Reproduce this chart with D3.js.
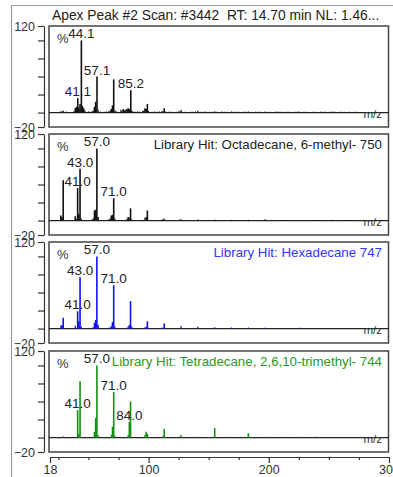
<!DOCTYPE html>
<html>
<head>
<meta charset="utf-8">
<script src="https://cdn.jsdelivr.net/npm/d3@7"></script>
<style>
  html, body { margin: 0; padding: 0; background: #fff; }
  svg { display: block; font-family: "Liberation Sans", Arial, sans-serif; }
  .pre { white-space: pre; }
</style>
</head>
<body>
<svg id="chart" width="393" height="477"></svg>
<script>
// ---- text ----
const headerText = "Apex Peak #2 Scan: #3442  RT: 14.70 min NL: 1.46...";
const hitTitles = [
  "",
  "Library Hit: Octadecane, 6-methyl- 750",
  "Library Hit: Hexadecane 747",
  "Library Hit: Tetradecane, 2,6,10-trimethyl- 744"
];

// ---- axes ----
const mzMajorTicks = [18, 100, 200, 300];
const mzMinorTicks = [25, 50, 75, 125, 150, 175, 225, 250, 275];
const intensityTicks = [120, 100, 75, 50, 25, 0, -20];
const intensityLabelled = [120, -20];

// ---- measured scan (apex peak #2) ----
const scanMz = [27, 28, 29, 31, 32, 38, 39, 40, 41.1, 42, 43, 44.1, 45, 46, 47, 50, 51, 53, 54, 55, 56, 57.1, 58, 60, 63, 65,
  67, 68, 69, 70, 71, 72, 73, 75, 77, 78, 79, 80, 81, 82, 83, 84, 85.2, 86, 87, 89, 91, 93, 95, 96, 97, 98, 99, 100,
  103, 105, 107, 109, 111, 112, 113, 114, 117, 119, 121, 123, 125, 126, 127, 128, 131, 133, 135, 137, 139, 141, 143,
  145, 147, 149, 151, 153, 155, 157, 159, 161, 163, 165, 167, 169, 171, 173, 175, 177, 179, 181, 183, 185, 187, 189,
  191, 193, 195, 197, 199, 201, 203, 205, 207, 209, 211, 213, 215, 217, 219, 221, 223, 225, 227, 229, 231, 233, 235,
  237, 239, 241, 243, 245, 247, 249, 251, 253, 255, 257, 259, 261, 263, 265, 267, 269, 271, 273, 275, 277, 281, 285];
const scanIntensity = [2, 1.5, 3, 1, 1, 2, 6, 8, 20, 7, 12, 100, 9, 6, 3, 1.5, 1, 2, 3, 8, 15, 50, 4, 1.5, 1, 1.5,
  2, 3, 5, 10, 46, 3, 2, 1, 4, 3, 5, 3, 4, 5, 6, 5, 31, 3, 1.5, 1, 2, 1, 2, 3, 6, 5, 12, 2,
  1, 1.5, 1, 1.5, 2, 2, 6, 1.5, 1, 1.2, 0.8, 1, 1.5, 2, 4, 1, 1.2, 0.9, 1.3, 1, 1.5, 2.5, 1,
  1.2, 1.5, 0.9, 1.1, 1, 2, 1.2, 0.8, 1.4, 1, 1.2, 0.9, 1.5, 1.1, 1, 1.3, 0.9, 1.2, 1, 1.5, 1.1, 0.8, 1.2,
  1, 1.3, 0.9, 1.5, 1, 1.2, 0.8, 1.1, 1.5, 1, 1.2, 0.9, 1.1, 1.3, 0.8, 1, 1.2, 1.5, 0.9, 1.1, 1.3, 1, 0.8,
  1.2, 1.1, 0.9, 1.3, 1, 1.2, 0.8, 1.1, 1.5, 1, 0.9, 1.2, 1, 1.1, 0.8, 1.2, 0.9, 1, 1.1, 0.8, 0.9, 0.7, 0.6];
const scanLabels = [41.1, 44.1, 57.1, 85.2];

// ---- library hit 1: Octadecane, 6-methyl- ----
const octMz = [27, 28, 29, 39, 40, 41, 42, 43, 44, 53, 54, 55, 56, 57, 58, 67, 68, 69, 70, 71, 72, 81, 82, 83, 84, 85, 86,
  95, 97, 98, 99, 100, 111, 112, 113, 126, 127, 141, 155, 169, 183, 197, 211, 239, 253, 268];
const octIntensity = [7, 5, 56, 6, 2, 45, 9, 72, 3, 2, 3, 14, 15, 100, 5, 2, 3, 7, 8, 31, 3, 1, 2, 5, 4, 17, 2,
  1, 4, 5, 14, 1, 1, 2, 3, 1, 2, 1.5, 1, 1, 1, 2, 0.8, 0.5, 1, 0.5];
const octLabels = [41.0, 43.0, 57.0, 71.0];

// ---- library hit 2: Hexadecane ----
const hexMz = [27, 28, 29, 39, 41, 42, 43, 44, 53, 54, 55, 56, 57, 58, 67, 68, 69, 70, 71, 72, 82, 83, 84, 85, 86,
  97, 98, 99, 100, 111, 112, 113, 127, 141, 155, 169, 183, 197, 226];
const hexIntensity = [4, 5, 15, 4, 24, 10, 71, 3, 1, 2, 8, 12, 100, 5, 1, 2, 4, 9, 60, 3, 1, 3, 5, 38, 3,
  2, 3, 10, 1, 1, 1, 7, 4, 3, 2, 1.5, 1.5, 1, 1];
const hexLabels = [41.0, 43.0, 57.0, 71.0];

// ---- library hit 3: Tetradecane, 2,6,10-trimethyl- ----
const triMz = [29, 41, 42, 43, 55, 56, 57, 58, 69, 70, 71, 72, 83, 84, 85, 97, 98, 99, 112, 113, 126, 127, 141, 155,
  169, 183, 197, 211, 225, 239];
const triIntensity = [2, 38, 5, 78, 8, 27, 100, 4, 4, 15, 63, 3, 4, 22, 50, 4, 8, 5, 3, 12, 2, 4, 1, 13,
  1, 6, 1, 0.5, 1, 1.5];
const triLabels = [41.0, 57.0, 71.0, 84.0];

const panels = [
  { mz: scanMz, inten: scanIntensity, labels: scanLabels, color: "#111111", title: hitTitles[0], titleColor: "#222", top: 26 },
  { mz: octMz, inten: octIntensity, labels: octLabels, color: "#111111", title: hitTitles[1], titleColor: "#222", top: 134 },
  { mz: hexMz, inten: hexIntensity, labels: hexLabels, color: "#1010ff", title: hitTitles[2], titleColor: "#3333ff", top: 242 },
  { mz: triMz, inten: triIntensity, labels: triLabels, color: "#138f13", title: hitTitles[3], titleColor: "#2a982a", top: 351 }
];

const W = 393, H = 477;
const boxLeft = 49, boxRight = 388.5, panelH = 101;
const axisX = 44;
const fmt = d3.format(".1f");

const svg = d3.select("#chart");

const x = d3.scaleLinear().domain([18, 300]).range([50, 389]);

// outer frame
svg.append("path")
  .attr("d", `M11.5,${H} V5.5 H${W}`)
  .attr("fill", "none").attr("stroke", "#9a9a9a").attr("stroke-width", 1.2);

// header line
svg.append("text")
  .attr("class", "pre")
  .attr("x", 52).attr("y", 20)
  .attr("font-size", 13.8).attr("fill", "#222")
  .text(headerText);

panels.forEach((p, i) => {
  const y = d3.scaleLinear().domain([-20, 120]).range([p.top + panelH, p.top]);
  const g = svg.append("g");

  // intensity axis
  const ax = g.append("g")
    .attr("transform", `translate(${axisX},0)`)
    .call(d3.axisLeft(y)
      .tickValues(intensityTicks)
      .tickSize(6)
      .tickSizeOuter(0)
      .tickPadding(3)
      .tickFormat(d => intensityLabelled.includes(d) ? d3.format("d")(d) : ""));
  ax.select(".domain").attr("stroke", "#333").attr("stroke-width", 1.2);
  ax.selectAll(".tick line").attr("stroke", "#333").attr("stroke-width", 1.2);
  ax.selectAll(".tick text")
    .attr("font-family", "Liberation Sans, Arial, sans-serif")
    .attr("font-size", 12.5).attr("fill", "#333");

  // panel box
  g.append("rect")
    .attr("x", boxLeft).attr("y", p.top)
    .attr("width", boxRight - boxLeft).attr("height", panelH)
    .attr("fill", "none").attr("stroke", "#444").attr("stroke-width", 1.5);

  // baseline at zero intensity
  g.append("line")
    .attr("x1", boxLeft).attr("x2", boxRight)
    .attr("y1", y(0)).attr("y2", y(0))
    .attr("stroke", "#222").attr("stroke-width", 1.2);

  // peaks
  const peaks = p.mz.map((m, k) => ({ mz: m, v: p.inten[k] }));
  g.append("g").selectAll("line")
    .data(peaks)
    .join("line")
    .attr("x1", d => x(d.mz)).attr("x2", d => x(d.mz))
    .attr("y1", y(0)).attr("y2", d => y(d.v))
    .attr("stroke", p.color)
    .attr("stroke-width", d => d.v >= 5 ? 1.6 : 1.2);

  // % sign
  g.append("text")
    .attr("x", 57).attr("y", p.top + 17)
    .attr("font-size", 13).attr("fill", "#333")
    .text("%");

  // peak labels
  g.append("g").selectAll("text")
    .data(p.labels.map(m => peaks.find(d => d.mz === m)))
    .join("text")
    .attr("x", d => x(d.mz))
    .attr("y", d => y(d.v) - 2)
    .attr("text-anchor", "middle")
    .attr("font-size", 13.5).attr("fill", "#222")
    .text(d => fmt(d.mz));

  // library hit title
  if (p.title) {
    g.append("text")
      .attr("x", 382).attr("y", p.top + 15)
      .attr("text-anchor", "end")
      .attr("font-size", 13.3).attr("fill", p.titleColor)
      .text(p.title);
  }

  // m/z marker
  g.append("text")
    .attr("x", 382).attr("y", y(0) + 5)
    .attr("text-anchor", "end")
    .attr("font-size", 11.5).attr("fill", "#333")
    .text("m/z");
});

// m/z axis
const axisY = 457;
const xMajor = svg.append("g")
  .attr("transform", `translate(0,${axisY})`)
  .call(d3.axisBottom(x).tickValues(mzMajorTicks).tickSize(6).tickSizeOuter(0).tickPadding(2).tickFormat(d3.format("d")));
xMajor.select(".domain").attr("stroke", "#333").attr("stroke-width", 1.2);
xMajor.selectAll(".tick line").attr("stroke", "#333").attr("stroke-width", 1.2);
xMajor.selectAll(".tick text")
  .attr("font-family", "Liberation Sans, Arial, sans-serif")
  .attr("font-size", 12.5).attr("fill", "#333");

const xMinor = svg.append("g")
  .attr("transform", `translate(0,${axisY})`)
  .call(d3.axisBottom(x).tickValues(mzMinorTicks).tickSize(3).tickSizeOuter(0).tickFormat(""));
xMinor.select(".domain").remove();
xMinor.selectAll(".tick line").attr("stroke", "#333").attr("stroke-width", 1.2);
</script>
</body>
</html>
